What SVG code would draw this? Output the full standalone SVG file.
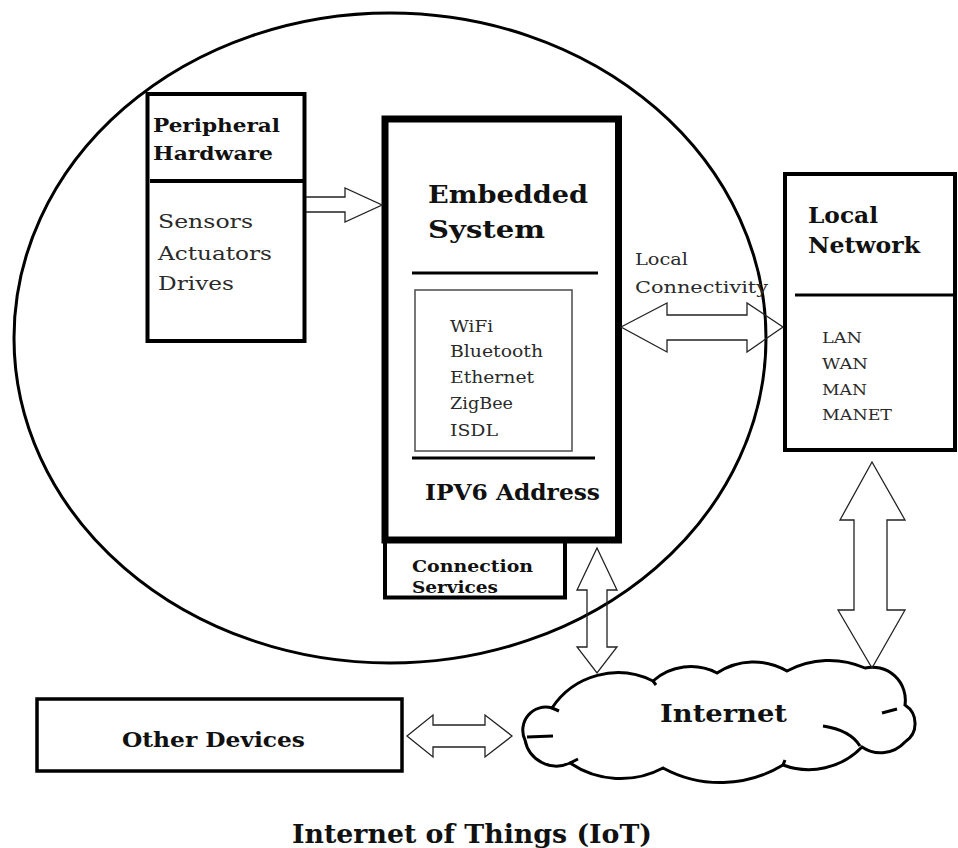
<svg xmlns="http://www.w3.org/2000/svg" width="958" height="848" viewBox="0 0 958 848">
<style>
.box{fill:none;stroke:#000}
.arr{fill:none;stroke:#222;stroke-width:1.3;stroke-linejoin:miter}
.h{font-family:"DejaVu Serif","Liberation Serif",serif;font-weight:bold;fill:#111}
.t{font-family:"DejaVu Serif","Liberation Serif",serif;fill:#2a2a2a}
.cl{fill:none;stroke:#000;stroke-width:3}
</style>
<rect width="958" height="848" fill="#fff"/>
<g id="iot-boundary">
<ellipse cx="390" cy="338" rx="376" ry="325" fill="none" stroke="#000" stroke-width="3"/>
</g>
<g id="peripheral">
<rect class="box" x="147.5" y="94" width="157" height="247" stroke-width="4"/>
<line x1="150" y1="181" x2="303" y2="181" stroke="#000" stroke-width="4"/>
<text class="h" x="153" y="132" font-size="19" textLength="127" lengthAdjust="spacingAndGlyphs">Peripheral</text>
<text class="h" x="153" y="160" font-size="19" textLength="120" lengthAdjust="spacingAndGlyphs">Hardware</text>
<text class="t" x="158" y="228" font-size="18" textLength="95" lengthAdjust="spacingAndGlyphs">Sensors</text>
<text class="t" x="158" y="260" font-size="18" textLength="114" lengthAdjust="spacingAndGlyphs">Actuators</text>
<text class="t" x="158" y="290" font-size="18" textLength="76" lengthAdjust="spacingAndGlyphs">Drives</text>
</g>
<g id="embedded">
<rect class="box" x="385" y="119" width="233.5" height="421" stroke-width="7"/>
<text class="h" x="428" y="203" font-size="25" textLength="160" lengthAdjust="spacingAndGlyphs">Embedded</text>
<text class="h" x="428" y="238" font-size="25" textLength="117" lengthAdjust="spacingAndGlyphs">System</text>
<line x1="412" y1="273" x2="598" y2="273" stroke="#000" stroke-width="3"/>
<rect x="415" y="290" width="157" height="161" fill="none" stroke="#555" stroke-width="1.6"/>
<text class="t" x="450" y="332" font-size="16" textLength="43" lengthAdjust="spacingAndGlyphs">WiFi</text>
<text class="t" x="450" y="357" font-size="16" textLength="93" lengthAdjust="spacingAndGlyphs">Bluetooth</text>
<text class="t" x="450" y="383" font-size="16" textLength="84" lengthAdjust="spacingAndGlyphs">Ethernet</text>
<text class="t" x="450" y="409" font-size="16" textLength="63" lengthAdjust="spacingAndGlyphs">ZigBee</text>
<text class="t" x="450" y="436" font-size="16" textLength="48" lengthAdjust="spacingAndGlyphs">ISDL</text>
<line x1="412" y1="458" x2="595" y2="458" stroke="#000" stroke-width="3"/>
<text class="h" x="425" y="500" font-size="22" textLength="175" lengthAdjust="spacingAndGlyphs">IPV6 Address</text>
</g>
<g id="connection-services">
<rect class="box" x="385" y="540" width="180" height="57.5" stroke-width="4"/>
<text class="h" x="412" y="572" font-size="16" textLength="121" lengthAdjust="spacingAndGlyphs">Connection</text>
<text class="h" x="412" y="593" font-size="16" textLength="86" lengthAdjust="spacingAndGlyphs">Services</text>
</g>
<g id="local-network">
<rect class="box" x="785" y="174" width="170" height="276" stroke-width="4"/>
<line x1="795" y1="295" x2="955" y2="295" stroke="#000" stroke-width="3"/>
<text class="h" x="808" y="223" font-size="22" textLength="70" lengthAdjust="spacingAndGlyphs">Local</text>
<text class="h" x="808" y="253" font-size="22" textLength="112" lengthAdjust="spacingAndGlyphs">Network</text>
<text class="t" x="822" y="343" font-size="15" textLength="40" lengthAdjust="spacingAndGlyphs">LAN</text>
<text class="t" x="822" y="369" font-size="15" textLength="46" lengthAdjust="spacingAndGlyphs">WAN</text>
<text class="t" x="822" y="395" font-size="15" textLength="45" lengthAdjust="spacingAndGlyphs">MAN</text>
<text class="t" x="822" y="420" font-size="15" textLength="70" lengthAdjust="spacingAndGlyphs">MANET</text>
</g>
<g id="internet">
<path d="M552,708 A79,79 0 0 1 653,681 A57,57 0 0 1 717,673 A66,66 0 0 1 787,671 A89,89 0 0 1 865,668 A33,33 0 0 1 905,705 A22,22 0 0 1 905,742 A33,33 0 0 1 862,747 A74,74 0 0 1 783,765 A120,120 0 0 1 663,768 A90,90 0 0 1 570,763 A32,32 0 0 1 525,740 A23,23 0 0 1 552,708 Z" fill="#fff" stroke="#000" stroke-width="3"/>
<path class="cl" d="M823,726 Q850,730 860,746"/>
<path class="cl" d="M882,713 L897,709"/>
<path class="cl" d="M527,737 L553,736"/>
<path class="cl" d="M552,708 L559,711"/>
<path class="cl" d="M653,681 L656,685"/>
<path class="cl" d="M570,763 L578,759"/>
<path class="cl" d="M783,765 L785,760"/>
<text class="h" x="660" y="722" font-size="24" textLength="127" lengthAdjust="spacingAndGlyphs">Internet</text>
</g>
<g id="other-devices">
<rect class="box" x="37" y="699" width="365" height="72" stroke-width="3.5"/>
<text class="h" x="122" y="747" font-size="21" textLength="183" lengthAdjust="spacingAndGlyphs">Other Devices</text>
</g>
<g id="connectors">
<polyline class="arr" points="306,197 345,197 345,188 382,205 345,222 345,212 306,212"/>
<polygon class="arr" points="621,327 667,303 667,315 747,315 747,303 783,327 747,352 747,340 667,340 667,352"/>
<polygon class="arr" points="597,548 617,590 607,590 607,647 617,647 597,673 577,647 587,647 587,590 577,590"/>
<polygon class="arr" points="872,462 905,520 887,520 887,610 905,610 872,668 838,610 854,610 854,520 840,520"/>
<polygon class="arr" points="407,736 433,715 433,725 485,725 485,715 512,736 485,757 485,747 433,747 433,757"/>
<text class="t" x="635" y="265" font-size="16" textLength="53" lengthAdjust="spacingAndGlyphs">Local</text>
<text class="t" x="635" y="293" font-size="16" textLength="133" lengthAdjust="spacingAndGlyphs">Connectivity</text>
</g>
<g id="title">
<text class="h" x="292" y="843" font-size="26" textLength="360" lengthAdjust="spacingAndGlyphs">Internet of Things (IoT)</text>
</g>
</svg>
